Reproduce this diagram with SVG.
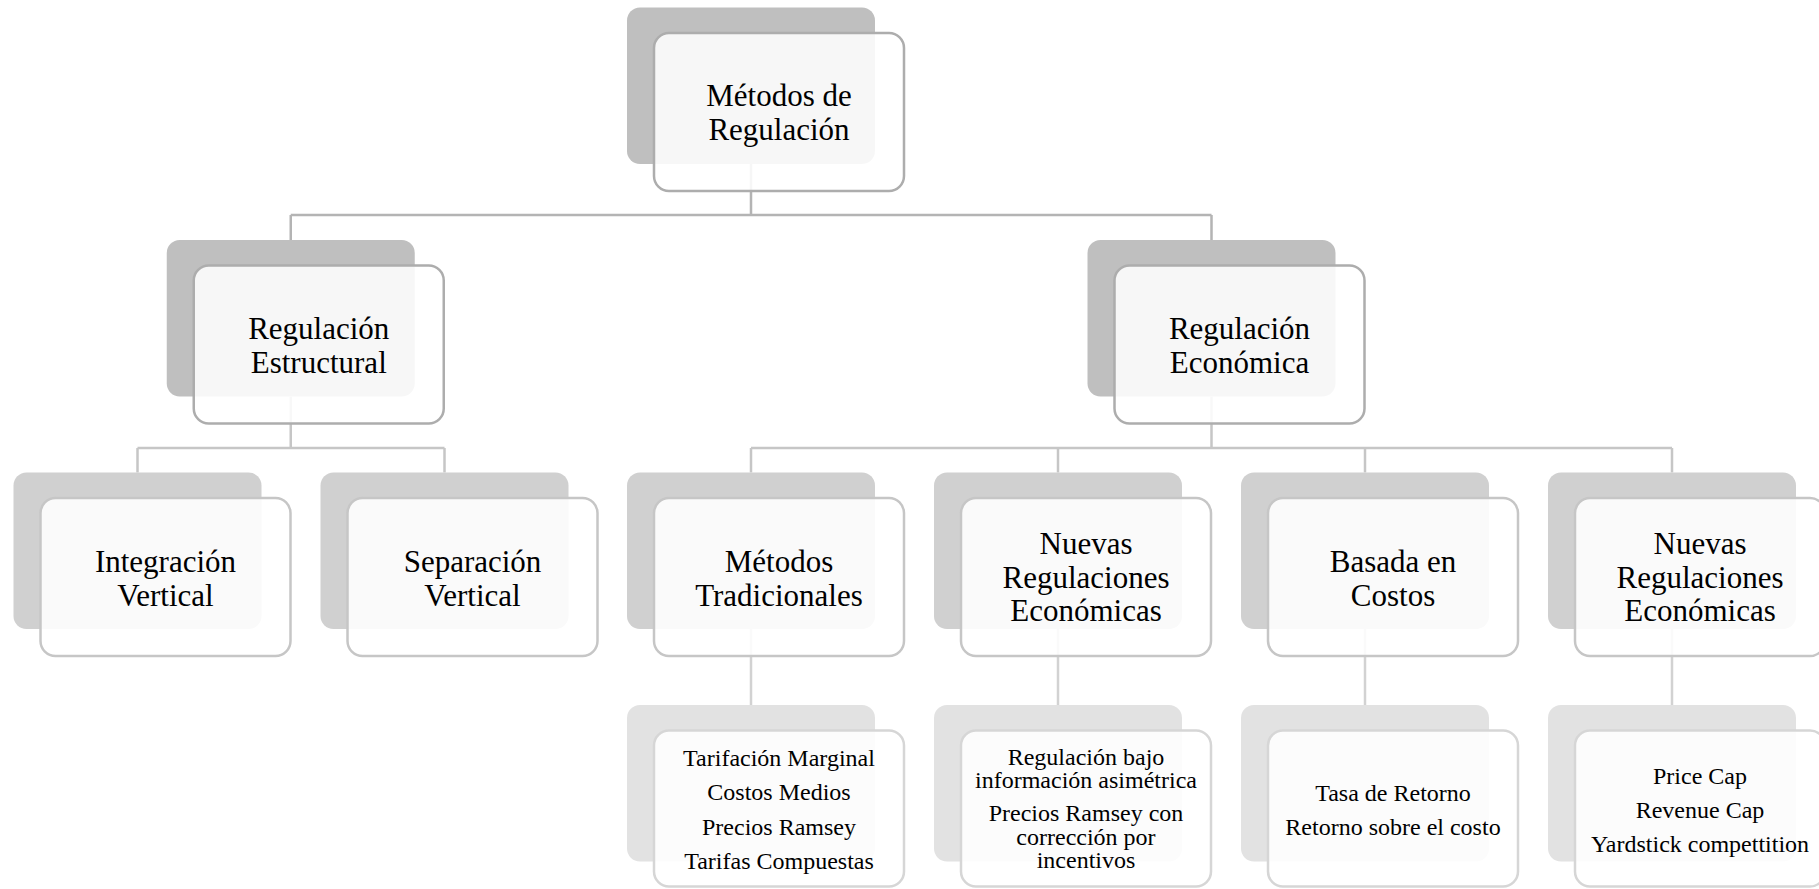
<svg xmlns="http://www.w3.org/2000/svg" width="1819" height="889" viewBox="0 0 1819 889">
<style>
  .sh1{fill:#bfbfbf}
  .sh3{fill:#d0d0d0}
  .sh4{fill:#e2e2e2}
  .fr{fill:#ffffff;fill-opacity:0.88;stroke-width:2.5}
  .f1{stroke:#adadad}
  .f3{stroke:#c6c6c6}
  .f4{stroke:#d6d6d6}
  .c1{fill:none;stroke:#b4b4b4;stroke-width:2.5}
  .c2{fill:none;stroke:#c6c6c6;stroke-width:2.5}
  .c3{fill:none;stroke:#d2d2d2;stroke-width:2.5}
  text{font-family:"Liberation Serif","Times New Roman",serif;fill:#000;text-anchor:middle}
  .t1{font-size:31px}
  .t4{font-size:24px}
</style>
<rect width="1819" height="889" fill="#ffffff"/>
<g id="connectors">
  <path class="c1" d="M751 164 V215 M290.75 215 H1211.5 M290.75 215 V240 M1211.5 215 V240"/>
  <path class="c2" d="M290.75 396.5 V448 M137.5 448 H444.5 M137.5 448 V472.5 M444.5 448 V472.5"/>
  <path class="c2" d="M1211.5 396.5 V448 M751 448 H1672 M751 448 V472.5 M1058 448 V472.5 M1365 448 V472.5 M1672 448 V472.5"/>
  <path class="c3" d="M751 629 V705 M1058 629 V705 M1365 629 V705 M1672 629 V705"/>
</g>
<g id="n-metodos-regulacion">
  <rect class="sh1" x="627" y="7.5" width="248" height="156.5" rx="13"/>
  <rect class="fr f1" x="654" y="33" width="250" height="158" rx="15"/>
  <text class="t1" x="779" y="106">Métodos de</text>
  <text class="t1" x="779" y="140">Regulación</text>
</g>
<g id="n-regulacion-estructural">
  <rect class="sh1" x="166.75" y="240" width="248" height="156.5" rx="13"/>
  <rect class="fr f1" x="193.75" y="265.5" width="250" height="158" rx="15"/>
  <text class="t1" x="318.75" y="339">Regulación</text>
  <text class="t1" x="318.75" y="373">Estructural</text>
</g>
<g id="n-regulacion-economica">
  <rect class="sh1" x="1087.5" y="240" width="248" height="156.5" rx="13"/>
  <rect class="fr f1" x="1114.5" y="265.5" width="250" height="158" rx="15"/>
  <text class="t1" x="1239.5" y="339">Regulación</text>
  <text class="t1" x="1239.5" y="373">Económica</text>
</g>
<g id="n-integracion-vertical">
  <rect class="sh3" x="13.5" y="472.5" width="248" height="156.5" rx="13"/>
  <rect class="fr f3" x="40.5" y="498" width="250" height="158" rx="15"/>
  <text class="t1" x="165.5" y="572">Integración</text>
  <text class="t1" x="165.5" y="605.5">Vertical</text>
</g>
<g id="n-separacion-vertical">
  <rect class="sh3" x="320.5" y="472.5" width="248" height="156.5" rx="13"/>
  <rect class="fr f3" x="347.5" y="498" width="250" height="158" rx="15"/>
  <text class="t1" x="472.5" y="572">Separación</text>
  <text class="t1" x="472.5" y="605.5">Vertical</text>
</g>
<g id="n-metodos-tradicionales">
  <rect class="sh3" x="627" y="472.5" width="248" height="156.5" rx="13"/>
  <rect class="fr f3" x="654" y="498" width="250" height="158" rx="15"/>
  <text class="t1" x="779" y="572">Métodos</text>
  <text class="t1" x="779" y="605.5">Tradicionales</text>
</g>
<g id="n-nuevas-regulaciones-1">
  <rect class="sh3" x="934" y="472.5" width="248" height="156.5" rx="13"/>
  <rect class="fr f3" x="961" y="498" width="250" height="158" rx="15"/>
  <text class="t1" x="1086" y="553.5">Nuevas</text>
  <text class="t1" x="1086" y="587.5">Regulaciones</text>
  <text class="t1" x="1086" y="621">Económicas</text>
</g>
<g id="n-basada-costos">
  <rect class="sh3" x="1241" y="472.5" width="248" height="156.5" rx="13"/>
  <rect class="fr f3" x="1268" y="498" width="250" height="158" rx="15"/>
  <text class="t1" x="1393" y="572">Basada en</text>
  <text class="t1" x="1393" y="605.5">Costos</text>
</g>
<g id="n-nuevas-regulaciones-2">
  <rect class="sh3" x="1548" y="472.5" width="248" height="156.5" rx="13"/>
  <rect class="fr f3" x="1575" y="498" width="250" height="158" rx="15"/>
  <text class="t1" x="1700" y="553.5">Nuevas</text>
  <text class="t1" x="1700" y="587.5">Regulaciones</text>
  <text class="t1" x="1700" y="621">Económicas</text>
</g>
<g id="n-lista-tradicionales">
  <rect class="sh4" x="627" y="705" width="248" height="156.5" rx="13"/>
  <rect class="fr f4" x="654" y="730.5" width="250" height="156" rx="15"/>
  <text class="t4" x="779" y="766">Tarifación Marginal</text>
  <text class="t4" x="779" y="800">Costos Medios</text>
  <text class="t4" x="779" y="834.5">Precios Ramsey</text>
  <text class="t4" x="779" y="869">Tarifas Compuestas</text>
</g>
<g id="n-lista-nuevas">
  <rect class="sh4" x="934" y="705" width="248" height="156.5" rx="13"/>
  <rect class="fr f4" x="961" y="730.5" width="250" height="156" rx="15"/>
  <text class="t4" x="1086" y="764.5">Regulación bajo</text>
  <text class="t4" x="1086" y="788">información asimétrica</text>
  <text class="t4" x="1086" y="821">Precios Ramsey con</text>
  <text class="t4" x="1086" y="844.5">corrección por</text>
  <text class="t4" x="1086" y="868">incentivos</text>
</g>
<g id="n-lista-costos">
  <rect class="sh4" x="1241" y="705" width="248" height="156.5" rx="13"/>
  <rect class="fr f4" x="1268" y="730.5" width="250" height="156" rx="15"/>
  <text class="t4" x="1393" y="801">Tasa de Retorno</text>
  <text class="t4" x="1393" y="834.5">Retorno sobre el costo</text>
</g>
<g id="n-lista-caps">
  <rect class="sh4" x="1548" y="705" width="248" height="156.5" rx="13"/>
  <rect class="fr f4" x="1575" y="730.5" width="250" height="156" rx="15"/>
  <text class="t4" x="1700" y="784">Price Cap</text>
  <text class="t4" x="1700" y="818">Revenue Cap</text>
  <text class="t4" x="1700" y="852">Yardstick compettition</text>
</g>
</svg>
